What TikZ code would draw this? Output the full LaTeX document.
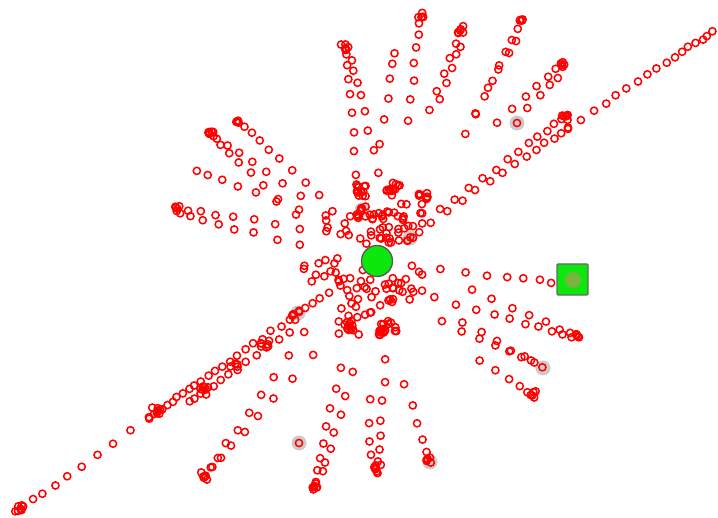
\documentclass[tikz,border=0pt]{standalone}
\definecolor{brightgreen}{RGB}{12,232,12}
\definecolor{olivedot}{RGB}{122,180,62}
\newcommand\dotray[5]{%
  \foreach \i in {0,...,#5}{%
    \pgfmathsetmacro\uu{\i/#5}%
    \pgfmathsetmacro\rt{\uu*(0.55+0.45*\uu)}%
    \pgfmathsetmacro\jx{#1+(#3-#1)*\rt+rand*1.2}%
    \pgfmathsetmacro\jy{#2+(#4-#2)*\rt+rand*1.2}%
    \draw[dot] (\jx,\jy) circle[radius=3.6];
  }}
\newcommand\dotcluster[4]{%
  \foreach \i in {1,...,#3}{%
    \pgfmathsetmacro\jx{#1+rand*#4}%
    \pgfmathsetmacro\jy{#2+rand*#4}%
    \draw[dot] (\jx,\jy) circle[radius=3.6];
  }}
\begin{document}
\begin{tikzpicture}[x=1pt,y=-1pt,
  dot/.style={draw=red,line width=1.5pt},
  shade/.style={fill=black!20,draw=none}]
\fill[white] (0,0) rectangle (718,518);
\useasboundingbox (0,0) rectangle (718,518);
\pgfmathsetseed{42}
% grey halos
\foreach \p in {(362,210),(410,238),(517,123),(543,368),(298,313),(299,443),(430,462)}
  \fill[shade] \p circle[radius=7.5];
% long diagonal
\dotray{15}{512}{150}{418}{10}
\dotcluster{20}{508}{6}{3}
\dotray{150}{417}{300}{312}{22}
\dotray{190}{402}{290}{332}{12}
\dotcluster{155}{412}{6}{5}
\dotcluster{205}{390}{6}{5}
\dotcluster{235}{368}{4}{5}
\dotcluster{265}{342}{6}{5}
\dotcluster{295}{318}{4}{4}
\dotray{300}{312}{377}{261}{8}
\dotray{713}{32}{568}{128}{16}
\dotray{568}{128}{430}{222}{12}
\dotray{568}{115}{440}{210}{12}
\dotcluster{565}{118}{5}{3}
% upper-left fingers
\dotray{177}{208}{300}{228}{7}
\dotray{180}{214}{300}{245}{7}
\dotcluster{177}{209}{4}{3}
\dotray{197}{170}{300}{210}{6}
\dotray{210}{133}{300}{195}{7}
\dotray{214}{137}{295}{215}{7}
\dotcluster{211}{134}{4}{3}
\dotray{237}{120}{320}{195}{8}
\dotcluster{238}{121}{3}{2}
% upper fingers
\dotray{345}{44}{357}{175}{8}
\dotray{352}{60}{378}{172}{7}
\dotcluster{345}{48}{6}{4}
\dotray{395}{53}{380}{145}{5}
\dotray{421}{14}{408}{120}{7}
\dotcluster{421}{18}{4}{3}
\dotray{463}{25}{430}{110}{6}
\dotray{460}{46}{440}{100}{4}
\dotcluster{461}{30}{4}{3}
\dotray{522}{20}{465}{135}{8}
\dotray{515}{40}{475}{113}{4}
\dotcluster{520}{22}{3}{3}
\dotray{563}{62}{497}{123}{6}
\dotray{557}{78}{528}{108}{3}
\dotcluster{562}{64}{4}{3}
% right fingers
\dotray{551}{282}{412}{266}{7}
\dotray{580}{338}{471}{289}{7}
\dotray{572}{337}{413}{291}{10}
\dotcluster{578}{337}{4}{3}
\dotray{542}{368}{463}{322}{6}
\dotray{530}{360}{441}{322}{6}
\dotray{535}{397}{480}{360}{5}
\dotcluster{533}{393}{4}{3}
% lower fingers
\dotray{203}{478}{305}{333}{9}
\dotray{212}{468}{312}{356}{7}
\dotcluster{205}{476}{5}{4}
\dotray{313}{490}{340}{368}{8}
\dotray{323}{472}{353}{372}{6}
\dotcluster{315}{485}{6}{4}
\dotray{377}{472}{386}{359}{7}
\dotray{370}{455}{370}{400}{3}
\dotcluster{377}{468}{6}{4}
\dotray{430}{462}{405}{385}{5}
\dotcluster{428}{460}{4}{3}
\draw[dot] (299,443) circle[radius=3.6];
\draw[dot] (517,123) circle[radius=3.6];
% centre clusters
\dotcluster{362}{190}{12}{6}
\dotcluster{393}{187}{12}{7}
\dotcluster{422}{195}{8}{6}
\dotcluster{385}{215}{38}{30}
\dotcluster{405}{222}{14}{18}
\dotcluster{340}{225}{10}{15}
\dotcluster{362}{210}{3}{2}
\dotcluster{410}{238}{4}{3}
\dotcluster{350}{326}{12}{6}
\dotcluster{381}{330}{12}{6}
\dotcluster{368}{305}{40}{30}
\dotcluster{410}{285}{10}{18}
\dotcluster{322}{262}{12}{20}
% green markers
\draw[fill=brightgreen,draw=black!65,line width=1.3pt] (377,261) circle[radius=15.5];
\draw[fill=brightgreen,draw=black!60,line width=1.3pt,rounded corners=1pt] (557,264) rectangle (588,295);
\fill[olivedot] (573,280) circle[radius=8];
\end{tikzpicture}
\end{document}
